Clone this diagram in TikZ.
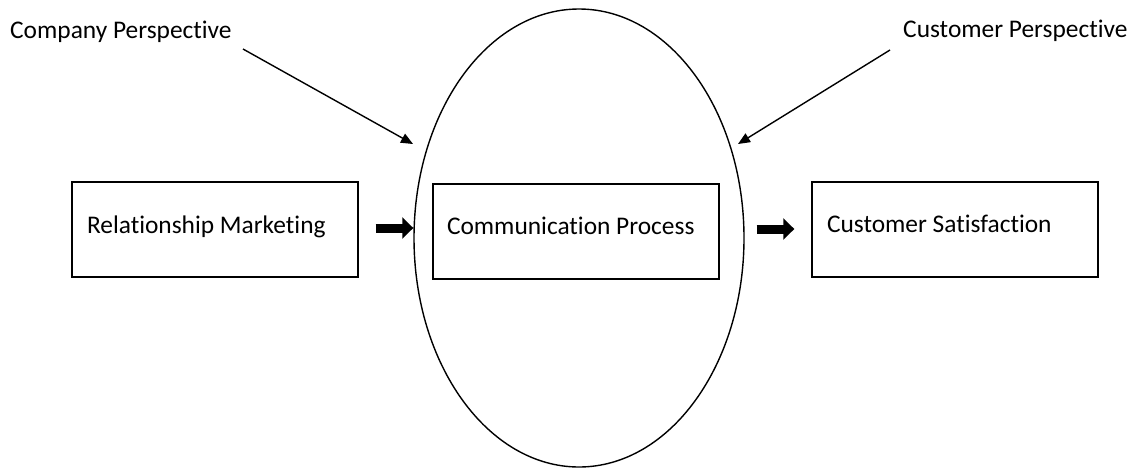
\documentclass[tikz,border=0pt]{standalone}
\usepackage{fontspec}
\setmainfont{Carlito}[Ligatures={NoCommon}]
\usetikzlibrary{shapes.geometric,arrows.meta}

% left-aligned caption inside a stage box, set at natural spacing
\newcommand\stagetext[2][256pt]{\makebox[#1][l]{#2}}

\begin{document}
\begin{tikzpicture}[x=1pt,y=-1pt,
  every node/.style={font=\fontsize{25.4}{30}\selectfont},
  stagebox/.style={draw, line width=1.4pt, minimum width=286pt, minimum height=95pt,
    inner xsep=15pt},
  thinarrow/.style={line width=1.4pt, -{Triangle[length=12pt,width=10pt]}},
  fatarrow/.style={line width=9pt, -{Triangle[length=11pt,width=21pt]}}
]
\useasboundingbox (0,0) rectangle (1137,469);
\fill[white] (0,0) rectangle (1137,469);

% central process ellipse
\node[draw, line width=1.4pt, ellipse, minimum width=330pt, minimum height=458pt,
  inner sep=0pt] (ell) at (579,238) {};

% the three stages
\node[stagebox, text height=12pt, text depth=5pt] (rm) at (215,229.5)
  {\stagetext{Relationship Marketing}};
\node[stagebox, inner xsep=14pt, text height=10pt, text depth=5pt] (cp) at (576,231.5)
  {\stagetext[258pt]{Communication Process}};
\node[stagebox, text height=10pt, text depth=5pt] (cs) at (955,229.5)
  {\stagetext{Customer Satisfaction}};

% perspectives
\node[anchor=base west, inner sep=0pt] (comp) at (10,38) {Company Perspective};
\node[anchor=base west, inner sep=0pt] (cust) at (903,37) {Customer Perspective};

\coordinate (compstart) at (243,49);
\coordinate (compend) at (413,144);
\coordinate (custstart) at (890,50);
\coordinate (custend) at (738,144);

\draw[thinarrow] (compstart) -- (compend);
\draw[thinarrow] (custstart) -- (custend);

% flow between stages
\draw[fatarrow, shorten <=17pt] (rm.east |- 0,228) -- (ell.west |- 0,228);
\draw[fatarrow, shorten <=12pt, shorten >=17pt] (ell.east |- 0,229) -- (cs.west |- 0,229);
\end{tikzpicture}
\end{document}
